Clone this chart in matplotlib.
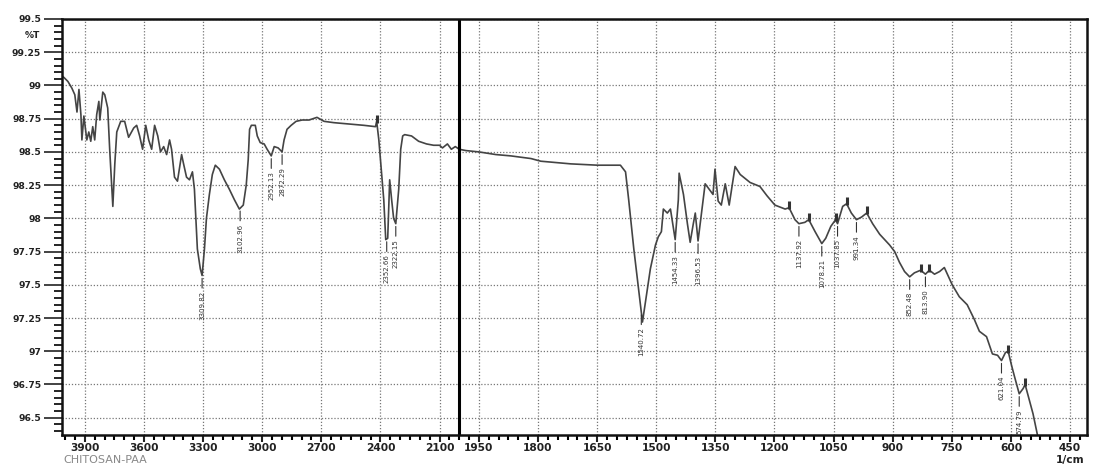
import numpy as np
import matplotlib.pyplot as plt
from matplotlib.ticker import FixedLocator, FuncFormatter

# FTIR spectrum of chitosan-PAA (wavenumber in 1/cm, transmittance in %T)
wavenumber = [4016, 4006, 3986, 3966, 3951, 3940, 3930, 3920, 3915, 3905,
              3890, 3880, 3870, 3860, 3850, 3840, 3829, 3824, 3809, 3799,
              3784, 3774, 3758, 3748, 3738, 3718, 3698, 3678, 3652, 3637,
              3622, 3607, 3591, 3576, 3561, 3546, 3530, 3516, 3500, 3485,
              3470, 3460, 3445, 3430, 3409, 3399, 3384, 3369, 3354, 3344,
              3329, 3314, 3305, 3293, 3283, 3268, 3253, 3238, 3217, 3192,
              3167, 3141, 3116, 3096, 3081, 3071, 3064, 3055, 3035, 3025,
              3010, 2990, 2975, 2954, 2939, 2919, 2899, 2889, 2874, 2853,
              2828, 2797, 2762, 2722, 2686, 2636, 2560, 2484, 2425, 2419,
              2408, 2398, 2383, 2373, 2363, 2353, 2343, 2333, 2322, 2307,
              2297, 2287, 2277, 2242, 2206, 2166, 2130, 2100, 2085, 2060,
              2040, 2020, 2000, 1983, 1950, 1907, 1869, 1818, 1793, 1717,
              1649, 1591, 1578, 1570, 1557, 1545, 1535, 1527, 1515, 1502,
              1495, 1487, 1482, 1472, 1464, 1452, 1444, 1442, 1431, 1421,
              1414, 1406, 1401, 1394, 1384, 1376, 1366, 1356, 1351, 1343,
              1335, 1325, 1315, 1300, 1287, 1262, 1237, 1219, 1199, 1173,
              1163, 1148, 1138, 1123, 1113, 1097, 1080, 1070, 1057, 1045,
              1040, 1027, 1017, 1005, 992, 979, 966, 951, 933, 908,
              895, 883, 870, 857, 845, 829, 817, 807, 794, 781,
              769, 749, 731, 711, 693, 680, 662, 647, 634, 624,
              614, 607, 599, 591, 579, 569, 564, 554, 544, 532]
transmittance = [99.07, 99.06, 99.03, 98.98, 98.93, 98.80, 98.97, 98.78, 98.59, 98.77,
                 98.59, 98.65, 98.58, 98.69, 98.59, 98.78, 98.88, 98.74, 98.95, 98.93,
                 98.83, 98.52, 98.09, 98.41, 98.65, 98.73, 98.73, 98.61, 98.68, 98.70,
                 98.62, 98.52, 98.70, 98.59, 98.52, 98.70, 98.62, 98.50, 98.54, 98.48,
                 98.59, 98.52, 98.31, 98.28, 98.48, 98.41, 98.31, 98.29, 98.35, 98.22,
                 97.77, 97.62, 97.57, 97.77, 98.00, 98.18, 98.33, 98.40, 98.37, 98.29,
                 98.22, 98.14, 98.07, 98.10, 98.25, 98.44, 98.67, 98.70, 98.70, 98.62,
                 98.57, 98.56, 98.52, 98.47, 98.54, 98.53, 98.50, 98.59, 98.67, 98.70,
                 98.73, 98.74, 98.74, 98.76, 98.73, 98.72, 98.71, 98.70, 98.69, 98.73,
                 98.59, 98.41, 98.14, 97.84, 97.85, 98.29, 98.14, 98.00, 97.96, 98.22,
                 98.52, 98.62, 98.63, 98.62, 98.58, 98.56, 98.55, 98.55, 98.53, 98.56,
                 98.52, 98.54, 98.52, 98.51, 98.50, 98.48, 98.47, 98.45, 98.43, 98.41,
                 98.40, 98.40, 98.35, 98.14, 97.77, 97.47, 97.22, 97.38, 97.62, 97.80,
                 97.86, 97.90, 98.07, 98.04, 98.07, 97.84, 98.14, 98.34, 98.18, 97.96,
                 97.82, 97.96, 98.04, 97.83, 98.07, 98.26, 98.22, 98.18, 98.37, 98.13,
                 98.10, 98.26, 98.10, 98.39, 98.33, 98.27, 98.24, 98.17, 98.10, 98.07,
                 98.08, 97.99, 97.96, 97.97, 97.99, 97.90, 97.81, 97.85, 97.94, 97.99,
                 97.96, 98.09, 98.11, 98.04, 97.99, 98.01, 98.04, 97.96, 97.88, 97.80,
                 97.75, 97.67, 97.60, 97.56, 97.59, 97.61, 97.58, 97.61, 97.58, 97.60,
                 97.63, 97.50, 97.41, 97.35, 97.24, 97.15, 97.11, 96.98, 96.97, 96.93,
                 96.99, 97.00, 96.90, 96.81, 96.68, 96.72, 96.75, 96.64, 96.53, 96.36]

# picked peaks (troughs) and their printed labels
peak_wn = [3305, 3112, 2954, 2899, 2368, 2322, 1538, 1452, 1394,
           1138, 1080, 1040, 992, 857, 817, 624, 579]
peak_labels = ["3309.82", "3102.96", "2952.13", "2872.29", "2352.66", "2322.15",
               "1540.72", "1454.33", "1396.53", "1137.92", "1078.21", "1037.85",
               "991.34", "852.48", "813.90", "621.04", "574.79"]

# small marks the instrument put on local maxima
mark_wn = [2419, 2000, 1163, 1113, 1045, 1017, 966, 829, 807, 607, 564]

y_major = [96.5, 96.75, 97, 97.25, 97.5, 97.75, 98, 98.25, 98.5, 98.75, 99, 99.25, 99.5]
x_major = [3900, 3600, 3300, 3000, 2700, 2400, 2100,
           1950, 1800, 1650, 1500, 1350, 1200, 1050, 900, 750, 600, 450]

wn = np.array(wavenumber, dtype=float)
tr = np.array(transmittance)


# the instrument uses half the scale above 2000 1/cm
def fwd(w):
    w = np.asarray(w, dtype=float)
    return np.where(w > 2000, 2000 + (w - 2000) / 2, w)


def inv(u):
    u = np.asarray(u, dtype=float)
    return np.where(u > 2000, 2000 + (u - 2000) * 2, u)


fig = plt.figure(figsize=(11.02, 4.72), dpi=100)
ax = fig.add_axes([62 / 1102, 37 / 472, 1025 / 1102, 416 / 472])
ax.set_xscale('function', functions=(fwd, inv))
ax.set_xlim(4016, 407)
ax.set_ylim(96.37, 99.5)

ax.plot(wn, tr, color='#444444', lw=1.2, clip_on=True)

# peak labels with short leader lines
t_peak = np.interp(peak_wn, wn[::-1], tr[::-1])
for w, t, lab in zip(peak_wn, t_peak, peak_labels):
    ax.annotate(lab, xy=(w, t), xytext=(0, -11), textcoords='offset points',
                rotation=90, ha='center', va='top', fontsize=5, color='#333333',
                arrowprops=dict(arrowstyle='-', lw=0.8, color='#333333',
                                shrinkA=0, shrinkB=2))

t_mark = np.interp(mark_wn, wn[::-1], tr[::-1])
ax.plot(mark_wn, t_mark + 0.02, ls='none', marker='|', ms=6, mew=2.2, color='#333333')

# scale break line at 2000
ax.axvline(2000, color='black', lw=2.2)

# ticks
minor_x = [w for w in range(4000, 2000, -50) if w not in x_major] + \
          [w for w in range(2000, 400, -25) if w not in x_major]
ax.xaxis.set_major_locator(FixedLocator(x_major))
ax.xaxis.set_minor_locator(FixedLocator(minor_x))
ax.xaxis.set_major_formatter(FuncFormatter(lambda v, p: "%d" % round(v)))
ax.xaxis.set_minor_formatter(FuncFormatter(lambda v, p: ""))
ax.yaxis.set_major_locator(FixedLocator(y_major))
ax.yaxis.set_minor_locator(FixedLocator(np.arange(96.4, 99.5, 0.05)))
ax.yaxis.set_major_formatter(FuncFormatter(lambda v, p: "%g" % v))

ax.tick_params(axis='x', which='major', length=5, width=1.5, pad=1, labelsize=7.7, colors='#222222')
ax.tick_params(axis='x', which='minor', length=3.5, width=1.5)
ax.tick_params(axis='y', which='major', length=13, width=1.2, pad=2, labelsize=6.6, colors='#222222')
ax.tick_params(axis='y', which='minor', length=6, width=1.2)
for lab in ax.get_xticklabels() + ax.get_yticklabels():
    lab.set_fontweight('bold')

ax.grid(True, which='major', color='#777777', ls=(0, (1, 1.5)), lw=0.9)
for s in ax.spines.values():
    s.set_linewidth(1.8)
    s.set_color('#111111')

ax.text(-0.021, 99.375, "%T", transform=ax.get_yaxis_transform(), ha='right', va='center',
        fontsize=6.6, fontweight='bold', color='#222222')
fig.text(1070 / 1102, 12 / 472, "1/cm", ha='center', va='center',
         fontsize=7.7, fontweight='bold', color='#222222')
fig.text(63 / 1102, 12 / 472, "CHITOSAN-PAA", ha='left', va='center', fontsize=8, color='#888888')

plt.savefig("out.png", dpi=100)
